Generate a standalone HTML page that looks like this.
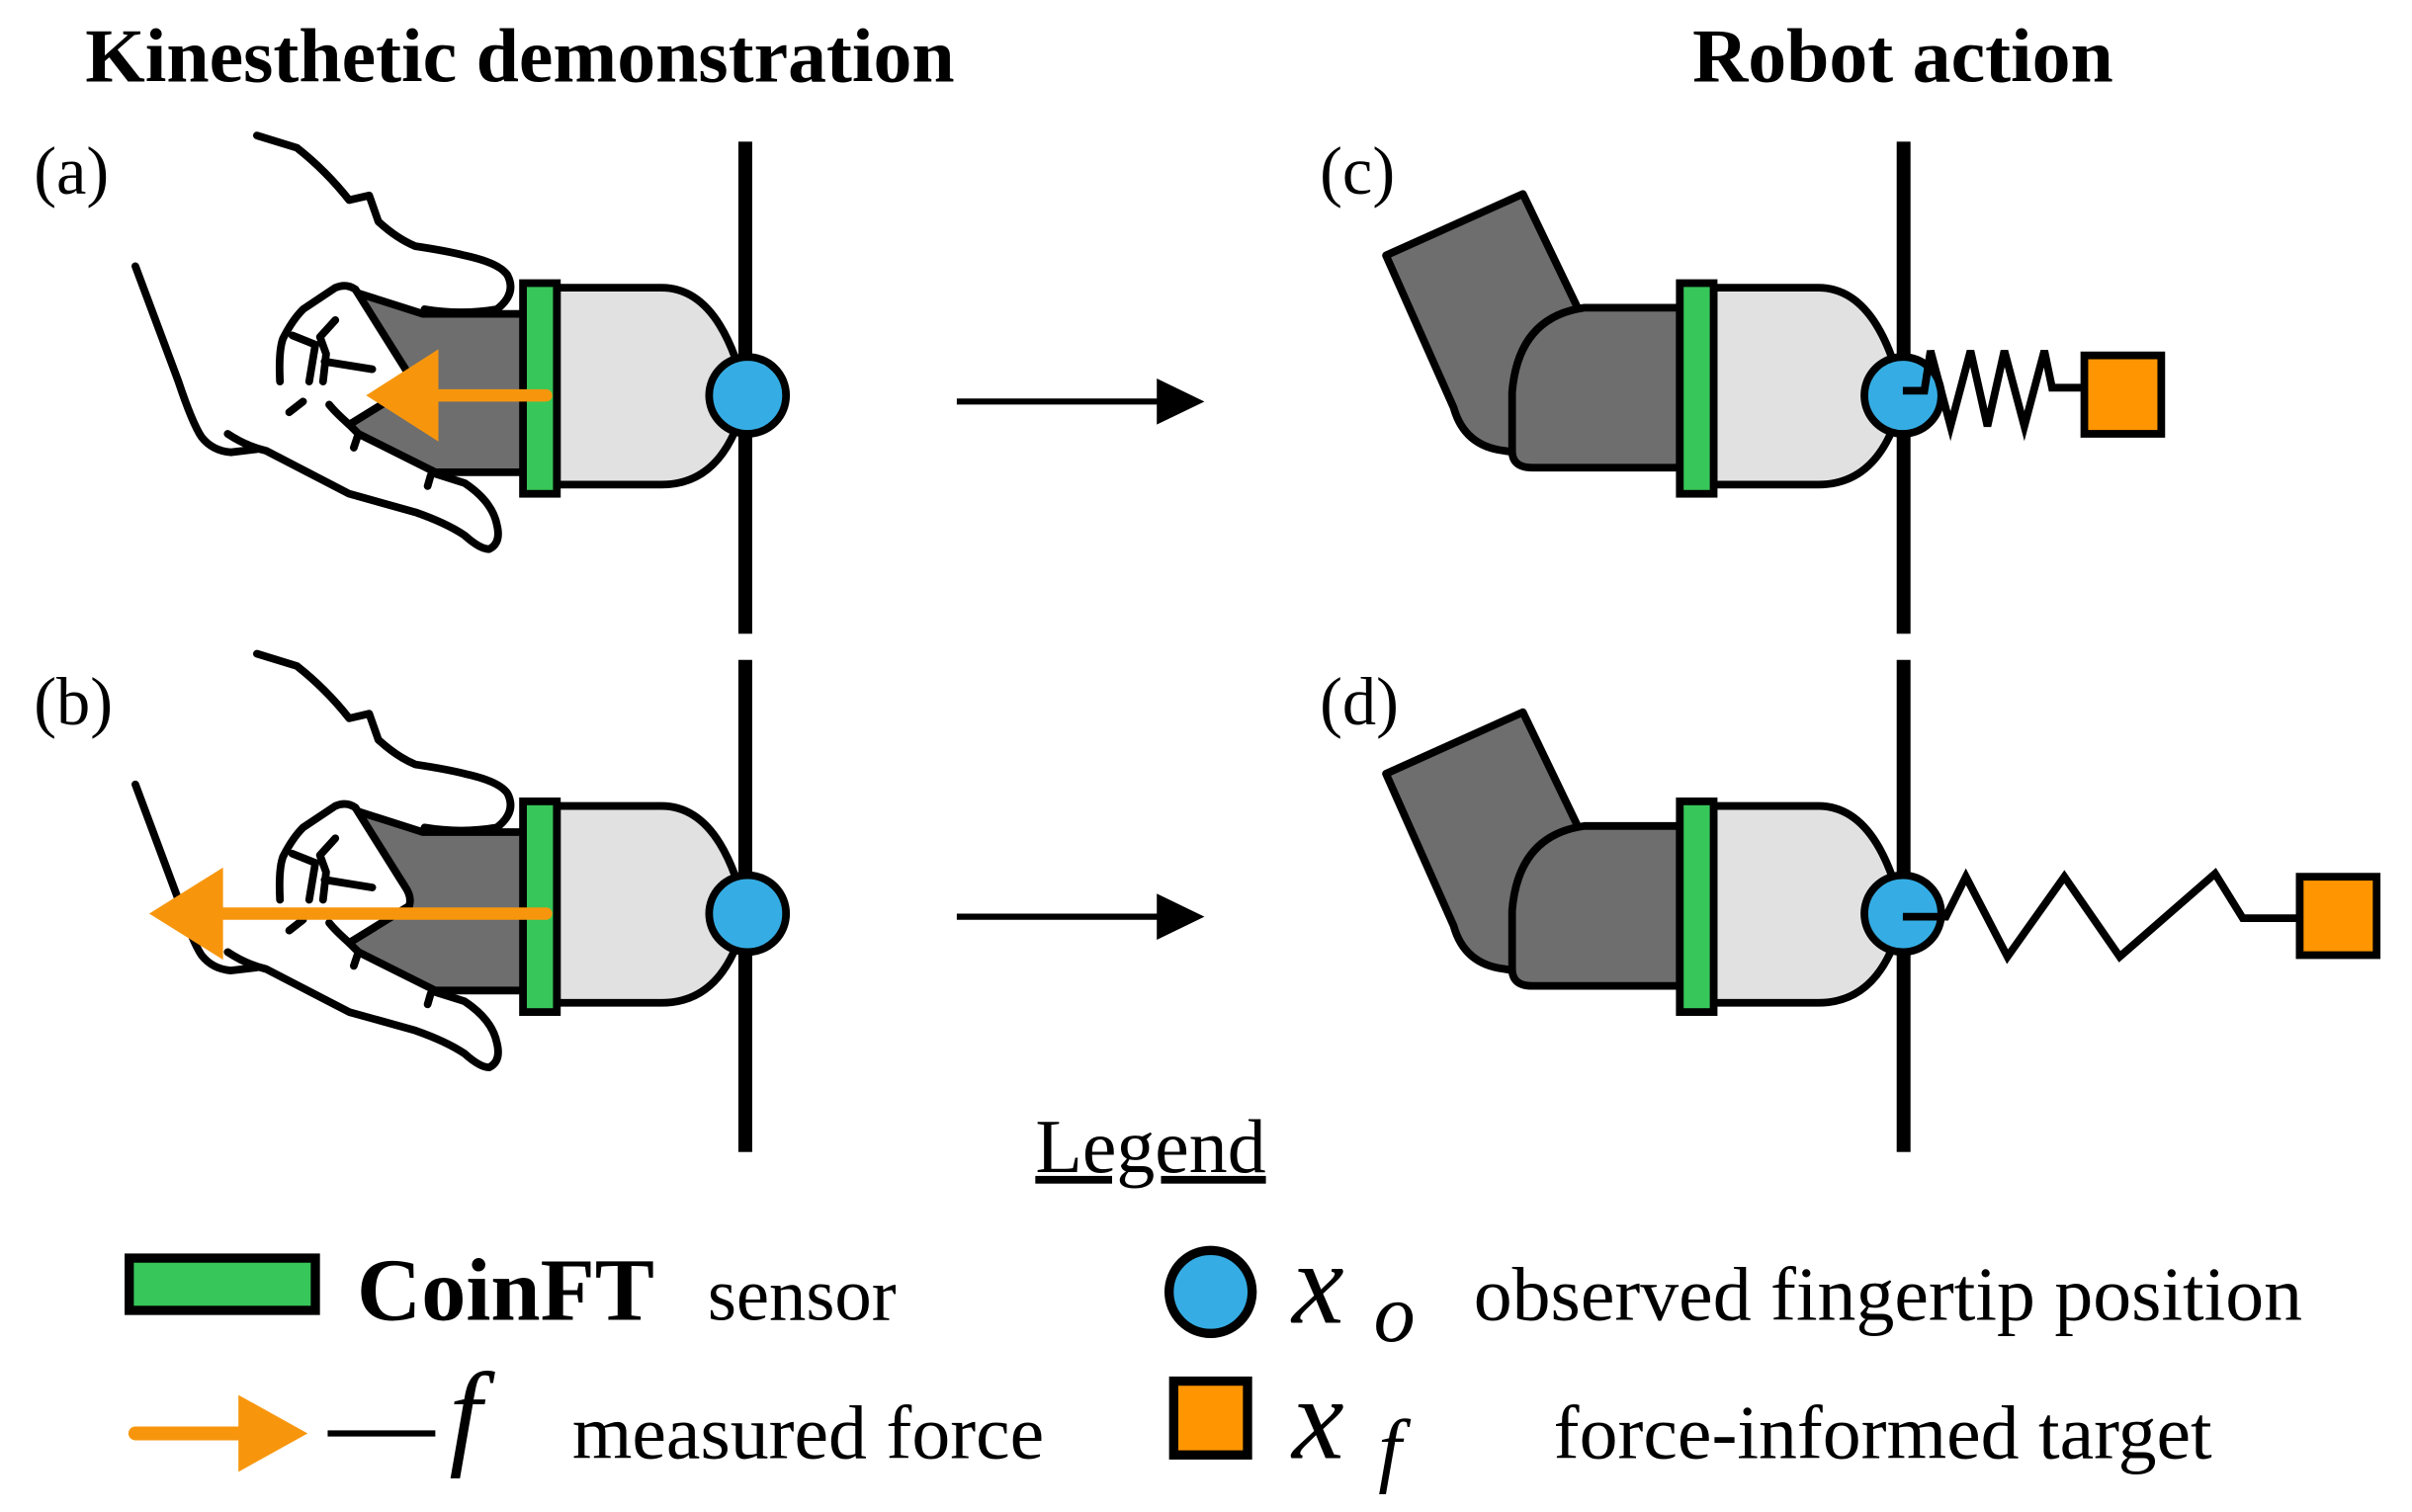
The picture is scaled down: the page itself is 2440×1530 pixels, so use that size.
<!DOCTYPE html>
<html><head><meta charset="utf-8"><style>
html,body{margin:0;padding:0;background:#fff;}
svg{display:block;}
text{font-family:"Liberation Serif","DejaVu Serif",serif;fill:#000;}
</style></head><body>
<svg width="2440" height="1530" viewBox="0 0 1568 983" xmlns="http://www.w3.org/2000/svg">
<defs>
<g id="hand">
  <path d="M345,541 L275,541 L231,527 L263,576 L266,589 L227,613 L233,619 L283,644 L345,644 Z" fill="#6e6e6e" stroke="#000" stroke-width="5" stroke-linejoin="round"/>
  <path d="M167,425 L193,433 Q212,448 227,467 L240,464 L246,481 Q258,492 270,497 Q290,500 302,503 Q325,508 330,516 Q336,528 323,538 Q300,542 276,538" fill="none" stroke="#000" stroke-width="5" stroke-linecap="round" stroke-linejoin="round"/>
  <path d="M88,510 L116,585 Q125,612 131,621 Q138,630 150,631 L167,629" fill="none" stroke="#000" stroke-width="5" stroke-linecap="round"/>
  <path d="M148,619 Q160,627 173,630 L227,658 L270,670 Q290,677 302,685 Q312,694 318,694 Q326,690 323,678 Q320,663 302,651 L283,645" fill="none" stroke="#000" stroke-width="5" stroke-linecap="round" stroke-linejoin="round"/>
  <path d="M182,585 Q181,565 184,557 Q190,545 197,538 L218,524 Q225,521 231,525 L263,576 Q268,583 266,589 L227,613 Q218,605 214,600" fill="#fff" stroke="#000" stroke-width="5" stroke-linecap="round" stroke-linejoin="round"/>
  <path d="M190,555 L205,561 L201,585 M218,545 L208,556 L212,567 L210,585 M211,572 L242,577 M188,605 L197,598 M233,619 L230,628 M280,646 L278,653" fill="none" stroke="#000" stroke-width="5" stroke-linecap="round" stroke-linejoin="round"/>
</g>
<g id="finger">
  <path d="M362,187 L430,187 C465,187 478,230 484,252 L484,262 C478,285 465,315 430,315 L362,315 Z" fill="#e1e1e1" stroke="#000" stroke-width="5"/>
  <rect x="340" y="184" width="22" height="137" fill="#37c659" stroke="#000" stroke-width="5"/>
  <rect x="480" y="92" width="9" height="320" fill="#000"/>
  <circle cx="486" cy="257" r="25" fill="#35ade4" stroke="#000" stroke-width="5"/>
</g>
<g id="robot">
  <path d="M901,166 L990,126 L1028,205 L990,295 L978,293 Q952,290 945,265 Z" fill="#6e6e6e" stroke="#000" stroke-width="5" stroke-linejoin="round"/>
  <path d="M1092,200 L1030,200 Q987,206 983,255 L983,293 Q983,304 996,304 L1092,304 Z" fill="#6e6e6e" stroke="#000" stroke-width="5" stroke-linejoin="round"/>
  <path d="M1114,187 L1182,187 C1217,187 1230,230 1236,252 L1236,262 C1230,285 1217,315 1182,315 L1114,315 Z" fill="#e1e1e1" stroke="#000" stroke-width="5"/>
  <rect x="1092" y="184" width="22" height="137" fill="#37c659" stroke="#000" stroke-width="5"/>
  <rect x="1233" y="92" width="9" height="320" fill="#000"/>
  <circle cx="1237" cy="257" r="25" fill="#35ade4" stroke="#000" stroke-width="5"/>
</g>
</defs>

<text x="338" y="53" font-size="50" font-weight="bold" text-anchor="middle">Kinesthetic demonstration</text>
<text x="1237" y="53" font-size="50" font-weight="bold" text-anchor="middle">Robot action</text>

<text x="22" y="126" font-size="44">(a)</text>
<text x="22" y="471" font-size="44">(b)</text>
<text x="858" y="126" font-size="44">(c)</text>
<text x="858" y="471" font-size="44">(d)</text>

<use href="#hand" transform="translate(0,-337)"/>
<use href="#finger"/>
<line x1="355" y1="257" x2="280" y2="257" stroke="#f7960d" stroke-width="8" stroke-linecap="round"/>
<polygon points="238,257 285,227 285,287" fill="#f7960d"/>

<use href="#hand"/>
<use href="#finger" transform="translate(0,337)"/>
<line x1="355" y1="594" x2="140" y2="594" stroke="#f7960d" stroke-width="8" stroke-linecap="round"/>
<polygon points="97,594 145,564 145,624" fill="#f7960d"/>

<line x1="622" y1="261" x2="760" y2="261" stroke="#000" stroke-width="4"/>
<polygon points="783,261 752,246 752,276" fill="#000"/>
<line x1="622" y1="596" x2="760" y2="596" stroke="#000" stroke-width="4"/>
<polygon points="783,596 752,581 752,611" fill="#000"/>

<use href="#robot"/>
<polyline points="1237,254 1251,254 1255,228 1268,277 1281,228 1292,277 1303,228 1316,277 1329,228 1334,252 1355,252" fill="none" stroke="#000" stroke-width="5" stroke-linejoin="miter"/>
<rect x="1355" y="231" width="50" height="51" fill="#ff9500" stroke="#000" stroke-width="5"/>

<use href="#robot" transform="translate(0,337)"/>
<polyline points="1237,596 1265,596 1278,570 1305,622 1342,570 1378,622 1440,568 1458,597 1495,597" fill="none" stroke="#000" stroke-width="5" stroke-linejoin="miter"/>
<rect x="1495" y="570" width="50" height="51" fill="#ff9500" stroke="#000" stroke-width="5"/>

<text x="748" y="762" font-size="50" text-anchor="middle" text-decoration="underline">Legend</text>

<rect x="84" y="818" width="121" height="34" fill="#37c659" stroke="#000" stroke-width="6"/>
<text x="232" y="858" font-size="58" font-weight="bold">CoinFT</text>
<text x="460" y="858" font-size="48">sensor</text>

<line x1="88" y1="932" x2="160" y2="932" stroke="#f7960d" stroke-width="9" stroke-linecap="round"/>
<polygon points="200,932 155,907 155,957" fill="#f7960d"/>
<line x1="213" y1="932" x2="283" y2="932" stroke="#000" stroke-width="4"/>
<text x="292" y="945" font-size="76" font-style="italic">f</text>
<text x="372" y="948" font-size="50">measured force</text>

<circle cx="787" cy="840" r="27" fill="#35ade4" stroke="#000" stroke-width="6"/>
<text x="840" y="860" font-size="76" font-style="italic">x</text>
<text x="893" y="872" font-size="54" font-style="italic">o</text>
<text x="958" y="858" font-size="50">observed fingertip position</text>

<rect x="763" y="898" width="48" height="48" fill="#ff9500" stroke="#000" stroke-width="6"/>
<text x="840" y="948" font-size="76" font-style="italic">x</text>
<text x="896" y="960" font-size="54" font-style="italic">f</text>
<text x="1010" y="948" font-size="50">force-informed target</text>
</svg>
</body></html>
